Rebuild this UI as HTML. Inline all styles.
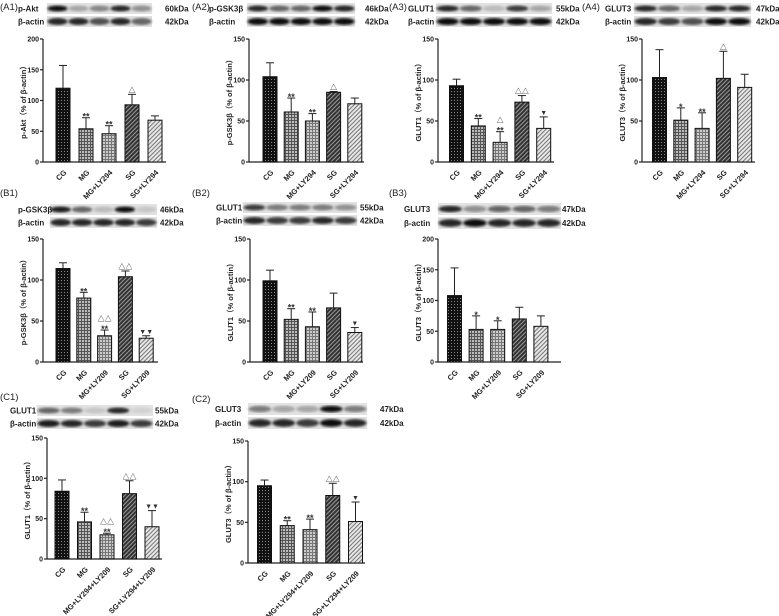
<!DOCTYPE html>
<html><head><meta charset="utf-8"><style>
html,body{margin:0;padding:0;background:#fff}
svg{display:block;font-family:"Liberation Sans","Noto Sans CJK SC",sans-serif}
</style></head><body>
<svg id="fig" width="779" height="616" viewBox="0 0 779 616" xmlns="http://www.w3.org/2000/svg">
<defs>
<pattern id="pCG" width="3" height="3" patternUnits="userSpaceOnUse"><rect width="3" height="3" fill="#111"/><rect x="1" y="1" width="1" height="1" fill="#888"/></pattern>
<pattern id="pMG" width="3" height="3" patternUnits="userSpaceOnUse"><rect width="3" height="3" fill="#bbb"/><rect width="3" height="1" fill="#555"/><rect width="1" height="3" fill="#555"/></pattern>
<pattern id="pMGLY" width="3" height="3" patternUnits="userSpaceOnUse"><rect width="3" height="3" fill="#ccc"/><rect width="3" height="1" fill="#777"/><rect width="1" height="3" fill="#777"/></pattern>
<pattern id="pSG" width="3" height="3" patternUnits="userSpaceOnUse" patternTransform="rotate(45)"><rect width="3" height="3" fill="#333"/><rect width="1" height="3" fill="#999"/></pattern>
<pattern id="pSGLY" width="3" height="3" patternUnits="userSpaceOnUse" patternTransform="rotate(45)"><rect width="3" height="3" fill="#e6e6e6"/><rect width="1" height="3" fill="#777"/></pattern>
<filter id="blur"><feGaussianBlur stdDeviation="1.3"/></filter>
</defs>
</svg>
<script>
// ---- data ----
const catsA = ["CG","MG","MG+LY294","SG","SG+LY294"];
const catsB = ["CG","MG","MG+LY209","SG","SG+LY209"];
const catsC = ["CG","MG","MG+LY294+LY209","SG","SG+LY294+LY209"];
const meanA1 = [120,54,46,93,68];   const errA1 = [37,18,13,17,7];
const meanA2 = [104,61,50,85,71];   const errA2 = [17,17,9,1,7];
const meanA3 = [93,44,24,73,41];    const errA3 = [8,9,13,8,14];
const meanA4 = [103,51,41,102,91];  const errA4 = [34,15,19,33,16];
const meanB1 = [114,78,32,104,29];  const errB1 = [7,7,7,7,3];
const meanB2 = [99,52,43,66,36];    const errB2 = [13,13,18,18,6];
const meanB3 = [108,53,53,70,58];   const errB3 = [45,22,14,19,17];
const meanC1 = [84,46,30,81,40];    const errC1 = [14,12,2,16,20];
const meanC2 = [95,46,41,83,51];    const errC2 = [7,6,13,15,24];
const sigA1 = ["","**","**","△",""];
const sigA2 = ["","**","**","△",""];
const sigA3 = ["","**","△|**","△△","▼"];
const sigA4 = ["","*","**","△",""];
const sigB1 = ["","**","△△|**","△△","▼▼"];
const sigB2 = ["","**","**","","▼"];
const sigB3 = ["","*","*","",""];
const sigC1 = ["","**","△△|**","△△","▼▼"];
const sigC2 = ["","**","**","△△","▼"];
const ticks150 = [0,50,100,150];
const ticks200 = [0,50,100,150,200];

const NS="http://www.w3.org/2000/svg";
const svg=document.getElementById('fig');
const fills=["url(#pCG)","url(#pMG)","url(#pMGLY)","url(#pSG)","url(#pSGLY)"];
function mk(tag,attrs,parent){const e=document.createElementNS(NS,tag);for(const k in attrs)e.setAttribute(k,attrs[k]);(parent||svg).appendChild(e);return e;}
function txt(s,attrs,parent){const e=mk('text',attrs,parent);e.textContent=s;return e;}

function panel(p){
  const g=mk('g',{});
  
  
  const pl=txt('('+p.id+')',{x:p.labX,y:p.labY,'font-size':9.5,fill:'#222'},g);
  
  
  const bg=mk('g',{},g);
  
  
  const rows=[{name:p.prot,kda:p.kda,y:p.bY,ints:p.b1},{name:'β-actin',kda:'42kDa',y:p.bY+p.bH+2,ints:p.b2}];
  rows.forEach((r,ri)=>{
    mk('rect',{x:p.bX,y:r.y,width:p.bW,height:p.bH,fill:'#e2e2e2'},bg);
    const lw=p.bW/5;
    r.ints.forEach((v,i)=>{
      const c=Math.round(230-v*215);
      mk('ellipse',{cx:p.bX+lw*(i+0.5),cy:r.y+p.bH/2,rx:lw*0.48,ry:p.bH*(ri?0.32:0.27),fill:`rgb(${c},${c},${c})`,filter:'url(#blur)'},bg);
    });
    const nl=txt(r.name,{x:p.nX,y:r.y+p.bH/2+3,'font-size':8,'font-weight':'bold',fill:'#222'},bg);
    
    
    const kl=txt(r.kda,{x:p.kX,y:r.y+p.bH/2+3,'font-size':8,'font-weight':'bold',fill:'#222'},bg);
    
    
  });
  const ys=v=>p.bot-v/p.max*(p.bot-p.top);
  const xs=i=>p.x0+i*p.step;
  const ax=mk('g',{},g);
  
  
  mk('line',{x1:p.ax,y1:p.top,x2:p.ax,y2:p.bot,stroke:'#222','stroke-width':1.2},ax);
  p.ticks.forEach(t=>{
    mk('line',{x1:p.ax-3,y1:ys(t),x2:p.ax,y2:ys(t),stroke:'#222','stroke-width':1.2},ax);
    const tl=txt(String(t),{x:p.ax-4,y:ys(t)+2.5,'font-size':7,'font-weight':'bold','text-anchor':'end',fill:'#222'},ax);
    
    
  });
  const cy=(p.top+p.bot)/2, tx=p.ax-17;
  const yt=txt(p.ytitle,{x:tx,y:cy,'font-size':7.5,'font-weight':'bold','text-anchor':'middle',fill:'#222',transform:`rotate(-90 ${tx} ${cy})`},ax);
  
  
  const xa=mk('line',{x1:p.ax,y1:p.bot,x2:p.xEnd,y2:p.bot,stroke:'#222','stroke-width':1.2},g);
  
  
  p.cats.forEach((c,i)=>{
    const cx=xs(i),w=14,v=p.mean[i],e=p.err[i];
    const b=mk('rect',{x:cx-w/2,y:ys(v),width:w,height:p.bot-ys(v),fill:fills[i],stroke:'#111','stroke-width':1},g);
    
    
    const eb=mk('g',{},g);
    
    
    mk('line',{x1:cx,y1:ys(v),x2:cx,y2:ys(v+e),stroke:'#222','stroke-width':1},eb);
    mk('line',{x1:cx-4,y1:ys(v+e),x2:cx+4,y2:ys(v+e),stroke:'#222','stroke-width':1},eb);
    if(p.sig[i]){
      const parts=p.sig[i].split('|');
      parts.forEach((s,k)=>{
        const yy=ys(v+e)-2-(parts.length-1-k)*7;
        const st=txt(s,{x:cx,y:yy+(s.indexOf('*')>=0?4:0),'font-size':s.indexOf('*')>=0?9:7,'font-weight':'bold','text-anchor':'middle',fill:'#333'},g);
        
        
      });
    }
    const lx=cx+4, ly=p.bot+11;
    const xl=txt(c,{x:lx,y:ly,'font-size':7.5,'font-weight':'bold','text-anchor':'end',fill:'#222',transform:`rotate(-45 ${lx} ${ly})`},g);
    
    
  });
}

panel({id:'A1',labX:0,labY:10,nX:18,prot:'p-Akt',kda:'60kDa',bX:47,bY:3,bW:105,bH:11,kX:165,b1:[1,0.3,0.45,0.9,0.4],b2:[0.9,0.9,0.7,0.9,0.6],
  ax:43,top:39,bot:162,max:200,ticks:ticks200,x0:63,step:23,xEnd:166,cats:catsA,mean:meanA1,err:errA1,sig:sigA1,ytitle:'p-Akt（% of β-actin）'});
panel({id:'A2',labX:192,labY:10,nX:209,prot:'p-GSK3β',kda:'46kDa',bX:247,bY:3,bW:108,bH:11,kX:365,b1:[0.9,0.6,0.6,1,0.9],b2:[1,1,1,1,1],
  ax:249,top:39,bot:162,max:150,ticks:ticks150,x0:270,step:21.2,xEnd:364,cats:catsA,mean:meanA2,err:errA2,sig:sigA2,ytitle:'p-GSK3β（% of β-actin）'});
panel({id:'A3',labX:389,labY:10,nX:408,prot:'GLUT1',kda:'55kDa',bX:436,bY:3,bW:116,bH:11,kX:556,b1:[0.9,0.6,0.2,0.8,0.3],b2:[1,1,1,1,1],
  ax:438,top:39,bot:162,max:150,ticks:ticks150,x0:456.5,step:21.8,xEnd:554,cats:catsA,mean:meanA3,err:errA3,sig:sigA3,ytitle:'GLUT1（% of β-actin）'});
panel({id:'A4',labX:582,labY:10,nX:605,prot:'GLUT3',kda:'47kDa',bX:634,bY:3,bW:117,bH:11,kX:756,b1:[0.9,0.6,0.3,0.9,0.9],b2:[0.9,0.8,0.7,1,1],
  ax:642,top:39,bot:162,max:150,ticks:ticks150,x0:659.5,step:21.3,xEnd:755,cats:catsA,mean:meanA4,err:errA4,sig:sigA4,ytitle:'GLUT3（% of β-actin）'});
panel({id:'B1',labX:0,labY:196,nX:18,prot:'p-GSK3β',kda:'46kDa',bX:50,bY:204,bW:107,bH:11,kX:160,b1:[0.95,0.6,0.2,1,0.15],b2:[0.9,0.9,0.9,0.9,0.8],
  ax:43,top:239,bot:362,max:150,ticks:ticks150,x0:63,step:20.8,xEnd:158,cats:catsB,mean:meanB1,err:errB1,sig:sigB1,ytitle:'p-GSK3β（% of β-actin）'});
panel({id:'B2',labX:192,labY:196,nX:216,prot:'GLUT1',kda:'55kDa',bX:243,bY:202,bW:114,bH:11,kX:360,b1:[0.8,0.5,0.5,0.5,0.4],b2:[0.9,0.8,0.8,0.9,0.8],
  ax:250,top:239,bot:362,max:150,ticks:ticks150,x0:270,step:21.2,xEnd:363,cats:catsB,mean:meanB2,err:errB2,sig:sigB2,ytitle:'GLUT1（% of β-actin）'});
panel({id:'B3',labX:389,labY:196,nX:404,prot:'GLUT3',kda:'47kDa',bX:438,bY:203,bW:123,bH:12,kX:562,b1:[0.9,0.4,0.6,0.6,0.5],b2:[0.9,1,0.9,0.9,0.9],
  ax:438,top:239,bot:362,max:200,ticks:ticks200,x0:454.5,step:21.6,xEnd:561,cats:catsB,mean:meanB3,err:errB3,sig:sigB3,ytitle:'GLUT3（% of β-actin）'});
panel({id:'C1',labX:0,labY:400,nX:10,prot:'GLUT1',kda:'55kDa',bX:37,bY:405,bW:116,bH:11,kX:155,b1:[0.6,0.5,0.15,0.9,0.1],b2:[0.95,0.9,0.8,0.95,0.8],
  ax:47,top:438,bot:559,max:150,ticks:ticks150,x0:62,step:22.5,xEnd:162,cats:catsC,mean:meanC1,err:errC1,sig:sigC1,ytitle:'GLUT1（% of β-actin）'});
panel({id:'C2',labX:192,labY:402,nX:215,prot:'GLUT3',kda:'47kDa',bX:248,bY:403,bW:119,bH:12,kX:380,b1:[0.5,0.3,0.3,1,0.5],b2:[0.9,0.9,0.8,1,0.9],
  ax:248,top:441,bot:563,max:150,ticks:ticks150,x0:264.5,step:22.75,xEnd:365,cats:catsC,mean:meanC2,err:errC2,sig:sigC2,ytitle:'GLUT3（% of β-actin）'});
</script>
</body></html>
